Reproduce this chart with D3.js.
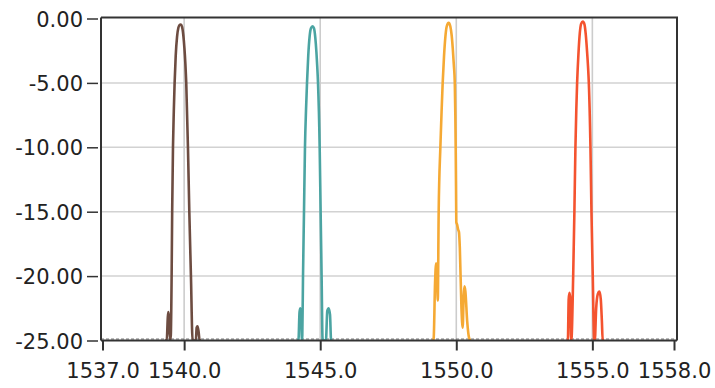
<!DOCTYPE html>
<html>
<head>
<meta charset="utf-8">
<script src="https://cdn.jsdelivr.net/npm/d3@7"></script>
<style>
  html, body { margin: 0; padding: 0; background: #ffffff; }
  svg { display: block; }
  text { font-family: "DejaVu Sans", Verdana, sans-serif; fill: #222; }
</style>
</head>
<body>
<svg id="chart" width="715" height="388"></svg>
<script>
// Wavelength (nm) and power (dB) sample points for each channel
const wlBrown  = [1539.30, 1539.36, 1539.40, 1539.42, 1539.45, 1539.48, 1539.51, 1539.54, 1539.56, 1539.59, 1539.62, 1539.65, 1539.69, 1539.74, 1539.79, 1539.84, 1539.88, 1539.92, 1539.97, 1540.01, 1540.045, 1540.077, 1540.14, 1540.19, 1540.25, 1540.31, 1540.43, 1540.46, 1540.49, 1540.53, 1540.57, 1540.62];
const dbBrown  = [-25, -25, -23.2, -22.8, -23.4, -25, -24.6, -20, -15, -10, -7.2, -5, -2.9, -1.4, -0.7, -0.48, -0.47, -0.62, -1.3, -2.3, -3.5, -5, -10, -15, -20, -25, -25, -24.0, -23.9, -24.3, -25, -25];

const wlTeal   = [1544.15, 1544.20, 1544.24, 1544.27, 1544.30, 1544.33, 1544.342, 1544.368, 1544.404, 1544.44, 1544.48, 1544.515, 1544.56, 1544.61, 1544.66, 1544.72, 1544.77, 1544.82, 1544.86, 1544.89, 1544.919, 1544.98, 1545.015, 1545.051, 1545.088, 1545.21, 1545.26, 1545.31, 1545.36, 1545.40, 1545.45];
const dbTeal   = [-25, -25, -22.8, -22.5, -23.0, -25, -24.6, -20, -15, -10, -7.0, -5, -2.9, -1.4, -0.75, -0.6, -0.75, -1.5, -2.6, -3.7, -5, -10, -15, -20, -25, -25, -22.7, -22.5, -23.0, -25, -25];

const wlOrange = [1549.12, 1549.15, 1549.17, 1549.22, 1549.26, 1549.29, 1549.32, 1549.353, 1549.415, 1549.46, 1549.50, 1549.55, 1549.60, 1549.65, 1549.72, 1549.78, 1549.83, 1549.87, 1549.91, 1549.945, 1549.965, 1549.978, 1549.99, 1550.00, 1550.03, 1550.07, 1550.10, 1550.13, 1550.19, 1550.235, 1550.27, 1550.30, 1550.335, 1550.40, 1550.47, 1550.52];
const dbOrange = [-25, -25, -24.8, -20.5, -19.0, -19.8, -21.9, -15, -10, -7.2, -5, -2.9, -1.4, -0.6, -0.33, -0.6, -1.3, -2.3, -3.6, -5, -7.5, -10, -13, -15.8, -16.0, -16.4, -16.6, -17.8, -22.5, -24.0, -21.6, -20.8, -21.2, -23.5, -24.8, -25];

const wlRed    = [1554.05, 1554.10, 1554.13, 1554.16, 1554.19, 1554.22, 1554.24, 1554.295, 1554.34, 1554.378, 1554.41, 1554.44, 1554.49, 1554.54, 1554.59, 1554.65, 1554.71, 1554.76, 1554.80, 1554.84, 1554.87, 1554.93, 1554.967, 1555.015, 1555.067, 1555.09, 1555.14, 1555.20, 1555.26, 1555.31, 1555.35, 1555.38, 1555.43];
const dbRed    = [-25, -25, -21.8, -21.3, -21.8, -25, -24.7, -20, -15, -10, -7.1, -5, -2.7, -1.1, -0.4, -0.23, -0.45, -1.3, -2.4, -3.7, -5, -10, -15, -20, -25, -25, -22.5, -21.4, -21.2, -21.8, -23.5, -25, -25];

const seriesNames  = ["ch1", "ch2", "ch3", "ch4"];
const seriesColors = ["#6d4c41", "#4ba4a2", "#f5a934", "#f4532f"];

// Axis ticks and their labels
const xTicks      = [1537, 1540, 1545, 1550, 1555, 1558];
const xTickLabels = ["1537.0", "1540.0", "1545.0", "1550.0", "1555.0", "1558.0"];
const yTicks      = [0, -5, -10, -15, -20, -25];
const yTickLabels = ["0.00", "-5.00", "-10.00", "-15.00", "-20.00", "-25.00"];

const series = [
  { name: seriesNames[0], color: seriesColors[0], pts: d3.zip(wlBrown, dbBrown) },
  { name: seriesNames[1], color: seriesColors[1], pts: d3.zip(wlTeal, dbTeal) },
  { name: seriesNames[2], color: seriesColors[2], pts: d3.zip(wlOrange, dbOrange) },
  { name: seriesNames[3], color: seriesColors[3], pts: d3.zip(wlRed, dbRed) }
];

const svg = d3.select("#chart");

// Plot frame
const frame = { left: 101, right: 677, top: 17.5, bottom: 340.5 };

const x = d3.scaleLinear().domain([1537, 1558]).range([102.5, 674]);
const y = d3.scaleLinear().domain([-25, 0]).range([340.5, 18.5]);

// Grid lines
const grid = svg.append("g").attr("class", "grid");
grid.selectAll("line.gy")
  .data(yTicks.filter(v => v !== 0 && v !== -25))
  .join("line")
  .attr("class", "gy")
  .attr("x1", frame.left).attr("x2", frame.right)
  .attr("y1", d => y(d)).attr("y2", d => y(d))
  .attr("stroke", "#d2d2d2").attr("stroke-width", 1.5);
grid.selectAll("line.gx")
  .data(xTicks.filter(v => v !== 1537 && v !== 1558))
  .join("line")
  .attr("class", "gx")
  .attr("x1", d => x(d)).attr("x2", d => x(d))
  .attr("y1", frame.top).attr("y2", frame.bottom)
  .attr("stroke", "#cccccc").attr("stroke-width", 1.6);

// Noise floor of the spectrum along the bottom of the plot
svg.append("line")
  .attr("x1", frame.left).attr("x2", frame.right)
  .attr("y1", y(-25) - 1.5).attr("y2", y(-25) - 1.5)
  .attr("stroke", "#777").attr("stroke-width", 1)
  .attr("stroke-dasharray", "3,2");

// Clip traces to the plot area
svg.append("clipPath").attr("id", "plotClip")
  .append("rect")
  .attr("x", frame.left).attr("y", frame.top)
  .attr("width", frame.right - frame.left).attr("height", frame.bottom - frame.top);

const line = d3.line()
  .x(d => x(d[0]))
  .y(d => y(d[1]))
  .curve(d3.curveMonotoneX);

svg.append("g").attr("clip-path", "url(#plotClip)")
  .selectAll("path")
  .data(series)
  .join("path")
  .attr("d", d => line(d.pts))
  .attr("fill", "none")
  .attr("stroke", d => d.color)
  .attr("stroke-width", 2.6)
  .attr("stroke-linejoin", "round");

// Frame border (top and right)
svg.append("path")
  .attr("d", `M${frame.left},${frame.top}H${frame.right}V${frame.bottom}`)
  .attr("fill", "none").attr("stroke", "#333").attr("stroke-width", 2);

// Y axis
const yAxis = d3.axisLeft(y)
  .tickValues(yTicks)
  .tickFormat((d, i) => yTickLabels[i])
  .tickSize(14)
  .tickPadding(4)
  .tickSizeOuter(0);
const gy = svg.append("g").attr("transform", `translate(${frame.left},0)`).call(yAxis);
gy.select(".domain").attr("stroke", "#333").attr("stroke-width", 2)
  .attr("d", `M0,${frame.top}V${frame.bottom}`);
gy.selectAll(".tick line").attr("x1", -3).attr("stroke", "#333").attr("stroke-width", 1.5);
gy.selectAll(".tick text")
  .attr("font-size", 21).attr("fill", "#222")
  .attr("dy", "0.36em");

// X axis
const xAxis = d3.axisBottom(x)
  .tickValues(xTicks)
  .tickFormat((d, i) => xTickLabels[i])
  .tickSize(10)
  .tickPadding(13)
  .tickSizeOuter(0);
const gx = svg.append("g").attr("transform", `translate(0,${frame.bottom})`).call(xAxis);
gx.select(".domain").attr("stroke", "#333").attr("stroke-width", 2)
  .attr("d", `M${frame.left},0H${frame.right}`);
gx.selectAll(".tick line").attr("stroke", "#333").attr("stroke-width", 2);
gx.selectAll(".tick text")
  .attr("font-size", 21).attr("fill", "#222");
</script>
</body>
</html>
